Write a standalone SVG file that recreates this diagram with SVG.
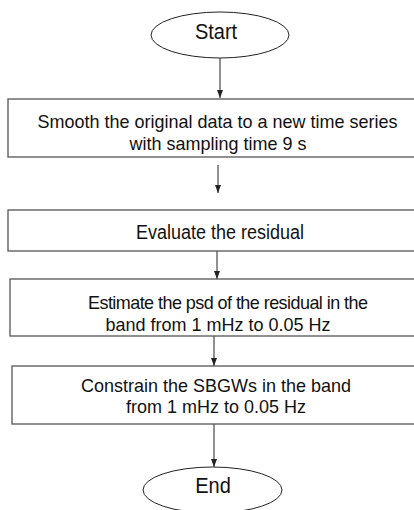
<svg xmlns="http://www.w3.org/2000/svg" width="414" height="510" viewBox="0 0 414 510">
<style>
.box{fill:#fff;stroke:#555;stroke-width:1.3}
.term{fill:#fff;stroke:#222;stroke-width:1}
.t{font-family:"Liberation Sans",Arial,sans-serif;font-size:18px;fill:#111;text-anchor:middle}
.c{stroke:#222;stroke-width:1;fill:none;marker-end:url(#ah)}
</style>
<defs>
<marker id="ah" viewBox="0 0 8 8" refX="8" refY="4" markerWidth="8" markerHeight="8" markerUnits="userSpaceOnUse" orient="auto">
<path d="M0,1 L8,4 L0,7 Z" fill="#222"/>
</marker>
</defs>
<rect width="414" height="510" fill="#fff"/>
<g id="connectors">
<line class="c" x1="220" y1="58" x2="220" y2="98"/>
<line class="c" x1="218" y1="165" x2="218" y2="193"/>
<line class="c" x1="217" y1="251" x2="217" y2="279"/>
<line class="c" x1="214" y1="336" x2="214" y2="366"/>
<line class="c" x1="214" y1="424" x2="214" y2="467"/>
</g>
<g id="start">
<ellipse class="term" cx="220" cy="35" rx="69" ry="23"/>
<text class="t" transform="translate(216,38.5) scale(1,1.06)" style="font-size:20px">Start</text>
</g>
<g id="smooth">
<rect class="box" x="8" y="99" width="420" height="58"/>
<text class="t" transform="translate(217.5,128) scale(1,1.04)">Smooth the original data to a new time series</text>
<text class="t" transform="translate(218,150) scale(1,1.04)">with sampling time 9 s</text>
</g>
<g id="evaluate">
<rect class="box" x="8" y="210" width="420" height="41"/>
<text class="t" transform="translate(220,239) scale(1,1.12)">Evaluate the residual</text>
</g>
<g id="estimate">
<rect class="box" x="10" y="279" width="420" height="57"/>
<text class="t" transform="translate(228,309) scale(1,1.04)" textLength="280">Estimate the psd of the residual in the</text>
<text class="t" transform="translate(218,330.5) scale(1,1.04)">band from 1 mHz to 0.05 Hz</text>
</g>
<g id="constrain">
<rect class="box" x="12" y="366" width="420" height="58"/>
<text class="t" transform="translate(216,391.5) scale(1,1.04)">Constrain the SBGWs in the band</text>
<text class="t" transform="translate(216,413) scale(1,1.04)">from 1 mHz to 0.05 Hz</text>
</g>
<g id="end">
<ellipse class="term" cx="212.5" cy="490" rx="69.5" ry="23"/>
<text class="t" transform="translate(213,492.5) scale(1,1.06)" style="font-size:20px">End</text>
</g>
</svg>
